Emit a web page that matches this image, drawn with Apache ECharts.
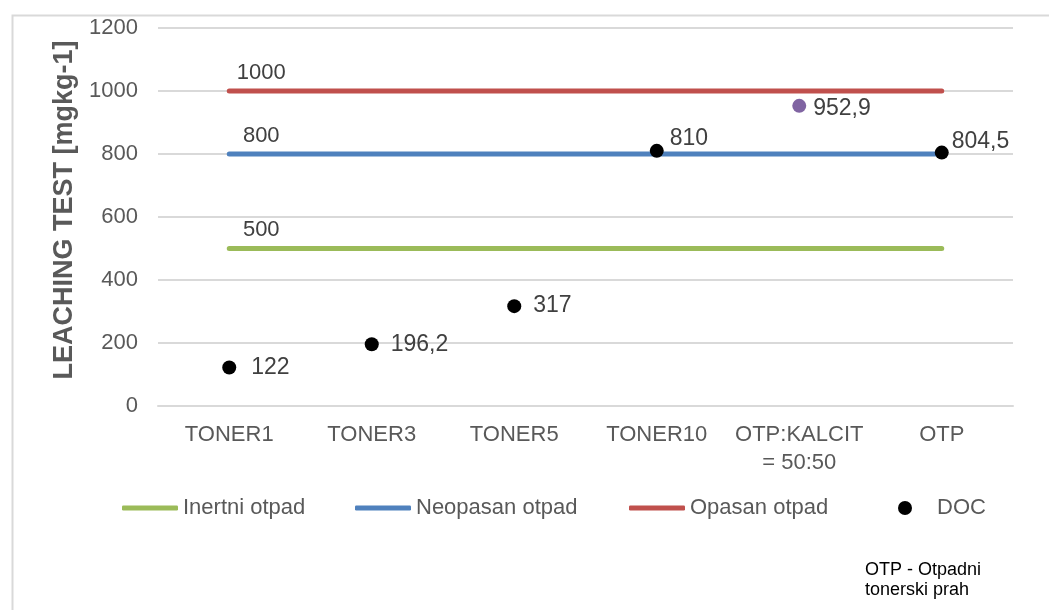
<!DOCTYPE html>
<html>
<head>
<meta charset="utf-8">
<script src="https://cdn.jsdelivr.net/npm/echarts@6/dist/echarts.min.js"></script>
<style>
html,body{margin:0;padding:0;background:#fff;}
#c{width:1049px;height:610px;}
</style>
</head>
<body>
<div id="c"></div>
<script>
var categories = ['TONER1', 'TONER3', 'TONER5', 'TONER10', 'OTP:KALCIT\n= 50:50', 'OTP'];
var inertniOtpad = [500, 500, 500, 500, 500, 500];
var neopasanOtpad = [800, 800, 800, 800, 800, 800];
var opasanOtpad = [1000, 1000, 1000, 1000, 1000, 1000];
var docValues = [122, 196.2, 317, 810, 952.9, 804.5];
var docLabels = ['122', '196,2', '317', '810', '952,9', '804,5'];
var yTicks = [0, 200, 400, 600, 800, 1000, 1200];

// styling helpers (not data)
var docColors = ['#000', '#000', '#000', '#000', '#8064a2', '#000'];
var docLabelDist = [15, 12, 12, 6, 7, 3];
var docLabelDy = [0, 0, 0, -12, 3, -11];
var FONT = "'Liberation Sans', Arial, sans-serif";

function limitLine(name, values, color) {
  return {
    name: name,
    type: 'line',
    data: values.map(function (v, i) {
      return i === 0 ? {
        value: v,
        label: {show: true, position: 'top', distance: 7, offset: [32, 0],
          formatter: String(v), fontSize: 22, color: '#404040', fontFamily: FONT}
      } : v;
    }),
    symbol: 'circle',
    symbolSize: 1,
    showSymbol: true,
    itemStyle: {color: color},
    lineStyle: {color: color, width: 5, cap: 'round'},
    label: {show: false},
    z: 2
  };
}

var chart = echarts.init(document.getElementById('c'), null, {renderer: 'canvas'});
var legendText = {fontSize: 22, color: '#595959', fontFamily: FONT};
chart.setOption({
  animation: false,
  backgroundColor: '#fff',
  grid: {left: 158, right: 36, top: 28, bottom: 204, containLabel: false},
  xAxis: {
    type: 'category',
    data: categories,
    boundaryGap: true,
    axisLine: {show: true, lineStyle: {color: '#d9d9d9', width: 2}},
    axisTick: {show: false},
    axisLabel: {margin: 15, fontSize: 22, color: '#595959', fontFamily: FONT, lineHeight: 28, interval: 0}
  },
  yAxis: {
    type: 'value',
    min: yTicks[0],
    max: yTicks[yTicks.length - 1],
    interval: 200,
    name: 'LEACHING TEST [mgkg-1]',
    nameLocation: 'middle',
    nameGap: 72,
    nameTextStyle: {fontSize: 27, fontWeight: 'bold', color: '#595959', fontFamily: FONT, padding: [0, 0, 0, 14]},
    axisLine: {show: false},
    axisTick: {show: false},
    axisLabel: {margin: 20, fontSize: 22, color: '#595959', fontFamily: FONT,
      formatter: function (v) { return String(v); }},
    splitLine: {lineStyle: {color: '#d9d9d9', width: 2}}
  },
  legend: [
    {data: [{name: 'Inertni otpad', icon: 'roundRect'}], left: 122, top: 497, padding: 0, itemWidth: 56, itemHeight: 5, textStyle: legendText, selectedMode: false},
    {data: [{name: 'Neopasan otpad', icon: 'roundRect'}], left: 355, top: 497, padding: 0, itemWidth: 56, itemHeight: 5, textStyle: legendText, selectedMode: false},
    {data: [{name: 'Opasan otpad', icon: 'roundRect'}], left: 629, top: 497, padding: 0, itemWidth: 56, itemHeight: 5, textStyle: legendText, selectedMode: false},
    {data: [{name: 'DOC', icon: 'circle', itemStyle: {color: '#000', opacity: 1}}], left: 898, top: 497, padding: 0, itemWidth: 14, itemHeight: 14,
      textStyle: {fontSize: 22, color: '#595959', fontFamily: FONT, padding: [0, 0, 0, 20]}, selectedMode: false}
  ],
  graphic: [
    {type: 'rect', left: 10, top: 13, silent: true,
      shape: {width: 1060, height: 620}, style: {fill: 'none', stroke: '#d9d9d9', lineWidth: 2}},
    {type: 'text', left: 865, top: 560, silent: true,
      style: {text: 'OTP - Otpadni\ntonerski prah', fontSize: 18, lineHeight: 20, fill: '#000', fontFamily: FONT}}
  ],
  series: [
    limitLine('Inertni otpad', inertniOtpad, '#9bbb59'),
    limitLine('Neopasan otpad', neopasanOtpad, '#4f81bd'),
    limitLine('Opasan otpad', opasanOtpad, '#c0504d'),
    {
      name: 'DOC',
      type: 'scatter',
      symbol: 'circle',
      symbolSize: 14,
      z: 5,
      itemStyle: {color: '#000', opacity: 1},
      data: docValues.map(function (v, i) {
        return {
          value: v,
          itemStyle: {color: docColors[i], opacity: 1},
          label: {show: true, position: 'right', distance: docLabelDist[i], offset: [0, docLabelDy[i]],
            formatter: docLabels[i], fontSize: 23, color: '#404040', fontFamily: FONT}
        };
      })
    }
  ]
});
</script>
</body>
</html>
